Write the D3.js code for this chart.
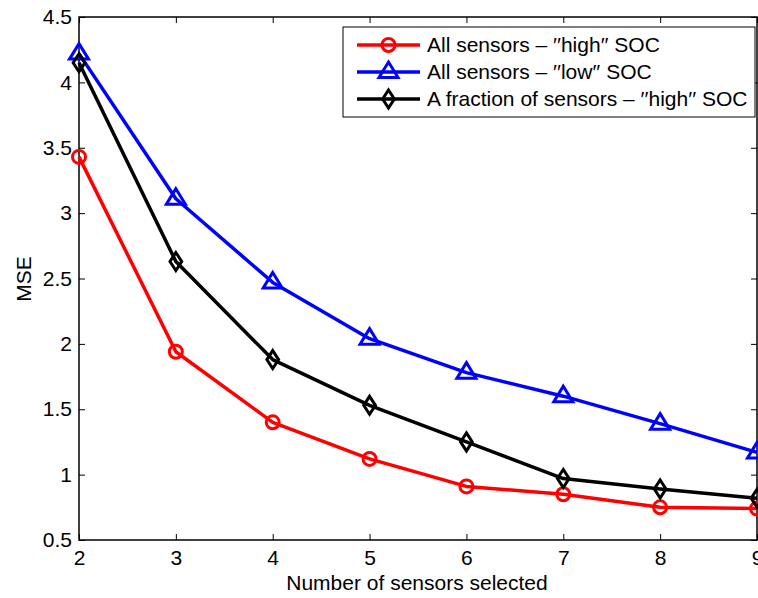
<!DOCTYPE html>
<html><head><meta charset="utf-8">
<script src="https://cdn.jsdelivr.net/npm/d3@7"></script>
<style>body{margin:0;background:#fff}svg{display:block}text{font-family:"Liberation Sans",Arial,sans-serif}</style>
</head><body><svg id="c" width="758" height="598"></svg>
<script>
const xs = [2,3,4,5,6,7,8,9];
const highAll = [3.43,1.94,1.40,1.12,0.91,0.85,0.75,0.74];
const lowAll = [4.22,3.11,2.47,2.04,1.78,1.60,1.39,1.17];
const highFrac = [4.15,2.63,1.88,1.53,1.25,0.97,0.89,0.82];
const seriesNames = ['All sensors \u2013 \u2032\u2032high\u2032\u2032 SOC','All sensors \u2013 \u2032\u2032low\u2032\u2032 SOC','A fraction of sensors \u2013 \u2032\u2032high\u2032\u2032 SOC'];
const colors = ['#ff0000','#0000ff','#000000'];
const markers = ['circle','triangle','diamond'];
const yTicks = [0.5,1,1.5,2,2.5,3,3.5,4,4.5];
const xTicks = [2,3,4,5,6,7,8,9];

const svg = d3.select('#c');
const L=79,R=757,T=17,B=540;
const x = d3.scaleLinear().domain([2,9]).range([L,R]);
const y = d3.scaleLinear().domain([0.5,4.5]).range([B,T]);
const fs = 21;

const ax = svg.append('g');
ax.append('g').attr('transform',`translate(0,${B})`).call(d3.axisBottom(x).tickValues(xTicks).tickSize(-6).tickPadding(10).tickFormat(d3.format('d')));
ax.append('g').attr('transform',`translate(0,${T})`).call(d3.axisTop(x).tickValues(xTicks).tickSize(-6).tickFormat(''));
ax.append('g').attr('transform',`translate(${L},0)`).call(d3.axisLeft(y).tickValues(yTicks).tickSize(-6).tickPadding(7).tickFormat(d=>d%1===0?d3.format('d')(d):d3.format('.1f')(d)));
ax.append('g').attr('transform',`translate(${R},0)`).call(d3.axisRight(y).tickValues(yTicks).tickSize(-6).tickFormat(''));
ax.selectAll('.domain').remove();
ax.selectAll('line').attr('stroke','#000').attr('stroke-width',1);
ax.selectAll('text').attr('font-size',fs).attr('fill','#000').attr('font-family','"Liberation Sans",Arial,sans-serif');
svg.append('rect').attr('x',L).attr('y',T).attr('width',R-L).attr('height',B-T).attr('fill','none').attr('stroke','#000').attr('stroke-width',1.5);

function drawMarker(g,type,cx,cy,col){
  if(type==='circle') g.append('circle').attr('cx',cx).attr('cy',cy).attr('r',6.5).attr('fill','none').attr('stroke',col).attr('stroke-width',3);
  else if(type==='triangle'){const s=10; g.append('path').attr('d',`M${cx},${cy-s}L${cx+s*0.95},${cy+s*0.55}L${cx-s*0.95},${cy+s*0.55}Z`).attr('fill','none').attr('stroke',col).attr('stroke-width',3);}
  else {const s=9; g.append('path').attr('d',`M${cx},${cy-s}L${cx+s*0.65},${cy}L${cx},${cy+s}L${cx-s*0.65},${cy}Z`).attr('fill','none').attr('stroke',col).attr('stroke-width',3);}
}

const data=[highAll,lowAll,highFrac];
const line = d3.line().x((d,i)=>x(xs[i])).y(d=>y(d));
const pg = svg.append('g');
data.forEach((ser,k)=>{
  pg.append('path').datum(ser).attr('d',line).attr('fill','none').attr('stroke',colors[k]).attr('stroke-width',3.5).attr('stroke-linejoin','round');
});
data.forEach((ser,k)=>{
  ser.forEach((v,i)=>drawMarker(pg,markers[k],x(xs[i]),y(v),colors[k]));
});

const lg = svg.append('g');
lg.append('rect').attr('x',343).attr('y',27).attr('width',412).attr('height',90).attr('fill','#fff').attr('stroke','#000').attr('stroke-width',1);
const ly=[45,72,99];
seriesNames.forEach((n,k)=>{
  lg.append('line').attr('x1',357).attr('x2',420).attr('y1',ly[k]).attr('y2',ly[k]).attr('stroke',colors[k]).attr('stroke-width',3.5);
  drawMarker(lg,markers[k],388.5,ly[k],colors[k]);
  lg.append('text').attr('x',427).attr('y',ly[k]+7).attr('font-size',fs).text(n);
});
lg.selectAll('text').each(function(){const w=this.getComputedTextLength(); if(427+w>753){d3.select(this).attr('textLength',753-427).attr('lengthAdjust','spacingAndGlyphs');}});

svg.append('text').attr('x',417).attr('y',590).attr('text-anchor','middle').attr('font-size',fs).text('Number of sensors selected');
svg.append('text').attr('transform',`translate(31,279) rotate(-90)`).attr('text-anchor','middle').attr('font-size',fs).text('MSE');
</script></body></html>
